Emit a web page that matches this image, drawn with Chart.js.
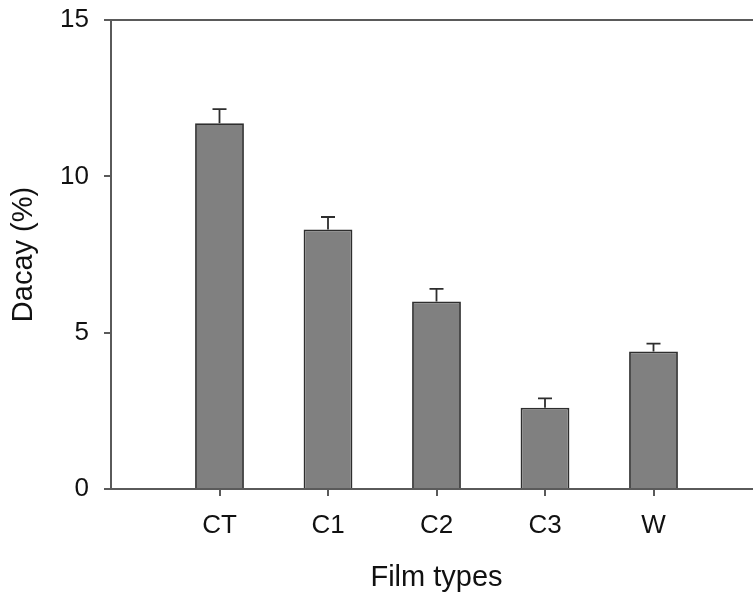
<!DOCTYPE html>
<html>
<head>
<meta charset="utf-8">
<script src="https://cdn.jsdelivr.net/npm/chart.js@4"></script>
<style>
  html, body { margin: 0; padding: 0; background: #ffffff; overflow: hidden; }
  #wrap { width: 753px; height: 595px; overflow: hidden; }
</style>
</head>
<body>
<div id="wrap"><canvas id="c" width="762" height="595"></canvas></div>
<script>
// Film types and their decay (%) with standard error (upper bars only)
const categories = ['CT', 'C1', 'C2', 'C3', 'W'];
const decay = [11.7, 8.3, 6.0, 2.6, 4.4];
const decayErr = [0.45, 0.4, 0.4, 0.3, 0.25];
const yTicks = [0, 5, 10, 15];

const axisColor = '#5a5a5a';
const inkColor = '#111111';
const fontFamily = '"Liberation Sans", Arial, sans-serif';

// bars sit at x = 1..n on a linear axis spanning 0..n+1
const points = categories.map((c, i) => ({ x: i + 1, y: decay[i] }));

const errorBars = {
  id: 'errorBars',
  afterDatasetsDraw(chart) {
    const { ctx, scales: { x, y } } = chart;
    ctx.save();
    ctx.strokeStyle = '#2e2e2e';
    ctx.lineWidth = 1.8;
    points.forEach((p, i) => {
      const px = x.getPixelForValue(p.x);
      const y0 = y.getPixelForValue(p.y);
      const y1 = y.getPixelForValue(p.y + decayErr[i]);
      ctx.beginPath();
      ctx.moveTo(px, y0);
      ctx.lineTo(px, y1);
      ctx.moveTo(px - 7, y1);
      ctx.lineTo(px + 7, y1);
      ctx.stroke();
    });
    ctx.restore();
  }
};

const topFrame = {
  id: 'topFrame',
  afterDraw(chart) {
    const { ctx, chartArea } = chart;
    ctx.save();
    ctx.strokeStyle = axisColor;
    ctx.lineWidth = 2;
    ctx.beginPath();
    ctx.moveTo(chartArea.left - 7, chartArea.top);
    ctx.lineTo(chart.width, chartArea.top);
    ctx.stroke();
    ctx.restore();
  }
};

new Chart(document.getElementById('c'), {
  type: 'bar',
  data: {
    datasets: [{
      data: points,
      backgroundColor: '#808080',
      borderColor: '#2e2e2e',
      borderWidth: 1.8,
      barPercentage: 0.45,
      categoryPercentage: 1.0
    }]
  },
  options: {
    responsive: false,
    animation: false,
    layout: { padding: { top: 20, right: 0, left: 0, bottom: 0 } },
    plugins: { legend: { display: false }, tooltip: { enabled: false } },
    scales: {
      x: {
        type: 'linear',
        min: 0,
        max: categories.length + 1,
        offset: false,
        afterBuildTicks(scale) {
          scale.ticks = categories.map((c, i) => ({ value: i + 1 }));
        },
        afterFit(scale) {
          scale.height = 106;
          scale.paddingLeft = 0;
          scale.paddingRight = 0;
        },
        ticks: {
          callback: (v) => categories[v - 1] || '',
          color: inkColor,
          font: { family: fontFamily, size: 26 },
          padding: 14,
          maxRotation: 0
        },
        grid: {
          offset: false,
          drawOnChartArea: false,
          drawTicks: true,
          tickLength: 7,
          color: axisColor,
          lineWidth: 2
        },
        border: { display: true, color: axisColor, width: 2 },
        title: {
          display: true,
          text: 'Film types',
          color: inkColor,
          font: { family: fontFamily, size: 29 },
          padding: { top: 0, bottom: 0 }
        }
      },
      y: {
        min: 0,
        max: 15,
        afterBuildTicks(scale) {
          scale.ticks = yTicks.map(v => ({ value: v }));
        },
        afterFit(scale) {
          scale.width = 111;
          scale.paddingTop = 0;
          scale.paddingBottom = 0;
        },
        ticks: {
          color: inkColor,
          font: { family: fontFamily, size: 26 },
          padding: 15
        },
        grid: {
          drawOnChartArea: false,
          drawTicks: true,
          tickLength: 7,
          color: axisColor,
          lineWidth: 2
        },
        border: { display: true, color: axisColor, width: 2 },
        title: {
          display: true,
          text: 'Dacay (%)',
          color: inkColor,
          font: { family: fontFamily, size: 29 },
          padding: { top: 7, bottom: 0 }
        }
      }
    }
  },
  plugins: [errorBars, topFrame]
});
</script>
</body>
</html>
